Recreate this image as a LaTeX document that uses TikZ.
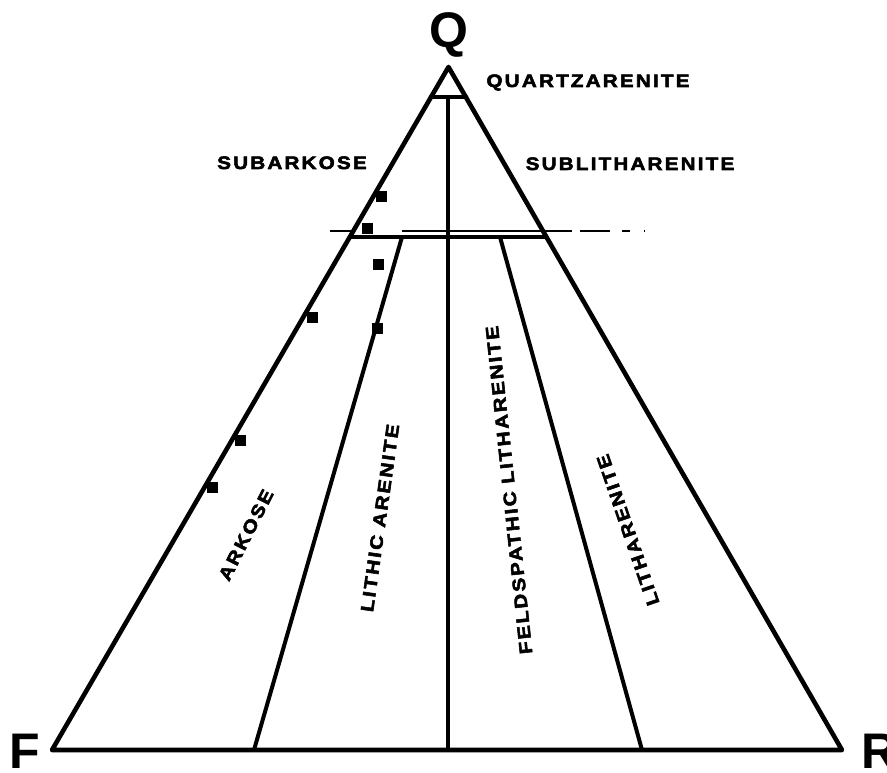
\documentclass[tikz,border=0pt]{standalone}
\usepackage{fontspec}
\newfontfamily\lblfont{Liberation Sans Bold}[FakeStretch=1.15,LetterSpace=12,FakeBold=3]
\newfontfamily\cornerfont{Liberation Sans Bold}
\begin{document}
\begin{tikzpicture}[x=1pt,y=-1pt,
  edge/.style={line width=4.6pt,line join=round,line cap=round},
  inner/.style={line width=4pt,line cap=round},
  guide/.style={line width=1.1pt,dash pattern=on 22pt off 50pt on 170pt off 8pt on 30pt off 12pt on 8pt off 14pt on 12pt off 12pt on 10pt},
  sample/.style={fill=black,minimum size=11pt,inner sep=0pt,draw=none},
  field/.style={font=\lblfont\fontsize{18}{18}\selectfont,inner sep=0pt},
  corner/.style={font=\cornerfont\fontsize{50}{50}\selectfont,inner sep=0pt}]
\clip (0,0) rectangle (887,773);
\useasboundingbox (0,0) rectangle (887,773);
% vertices
\coordinate (Q) at (448.5,67);
\coordinate (F) at (52,750);
\coordinate (R) at (842,750);
\coordinate (qL) at (431,97);
\coordinate (qR) at (466,97);
\coordinate (qC) at (448,97);
\coordinate (bC) at (448,750);
\coordinate (hL) at (350,237);
\coordinate (hR) at (546,237);
\coordinate (iL) at (402,237);
\coordinate (iR) at (500,237);
\coordinate (bL) at (254,750);
\coordinate (bR) at (642,750);
\coordinate (gA) at (330,231);
\coordinate (gB) at (645,231);
% thin guide line
\draw[guide] (gA) -- (gB);
% main triangle
\draw[edge] (Q) -- (F) -- (R) -- cycle;
\draw[edge] (qL) -- (qR);
\draw[edge] (hL) -- (hR);
\draw[inner] (qC) -- (bC);
\draw[inner] (iL) -- (bL);
\draw[inner] (iR) -- (bR);
% samples
\node[sample] (s1) at (381,197) {};
\node[sample] (s2) at (367,229) {};
\node[sample] (s3) at (378,264) {};
\node[sample] (s4) at (312,317) {};
\node[sample] (s5) at (377,328) {};
\node[sample] (s6) at (240,440) {};
\node[sample] (s7) at (212,487) {};
% corner labels
\node[corner,anchor=base] (lq) at (449,48) {Q};
\node[corner,anchor=base] (lf) at (25,768) {F};
\node[corner,anchor=base west] (lr) at (861,768) {R};
% field labels
\node[field,anchor=base] (qa) at (588,87) {QUARTZARENITE};
\node[field,anchor=base] (sa) at (292,169) {SUBARKOSE};
\node[field,anchor=base] (sl) at (630,170) {SUBLITHARENITE};
\node[field,rotate=63] (ak) at (246,535) {ARKOSE};
\node[field,rotate=82] (la) at (380,518) {LITHIC ARENITE};
\node[field,rotate=96] (fl) at (509,490) {FELDSPATHIC LITHARENITE};
\node[field,rotate=109] (li) at (628,530) {LITHARENITE};
\end{tikzpicture}
\end{document}
